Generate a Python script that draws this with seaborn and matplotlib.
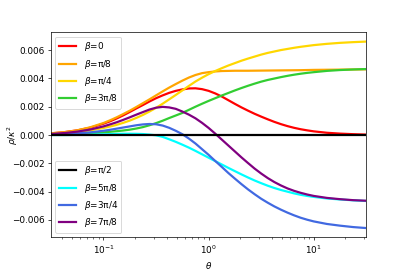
import matplotlib
matplotlib.use("Agg")
import matplotlib.pyplot as plt
import seaborn as sns
import pandas as pd

# theta positions where the curves were read
theta = [0.0316, 0.0422, 0.0562, 0.0750,
         0.1, 0.1155, 0.1334, 0.1540, 0.1778, 0.2054, 0.2371, 0.2738, 0.3162, 0.3652,
         0.4217, 0.4870, 0.5623, 0.6494, 0.7499, 0.8660, 1.0, 1.1548, 1.3335, 1.5399,
         1.7783, 2.0535, 2.3714, 2.7384, 3.1623, 3.6517, 4.2170, 4.8697, 5.6234, 6.4938,
         7.4989, 8.6596, 10.0,
         13.335, 17.783, 23.714, 31.623]

# values in units of 1e-3
SCALE = 1e-3
beta_0 = [0.12, 0.20, 0.33, 0.52,
          0.80, 0.97, 1.17, 1.39, 1.63, 1.88, 2.12, 2.37, 2.60, 2.80, 2.98, 3.12, 3.22,
          3.29, 3.30, 3.24, 3.12, 2.94, 2.72, 2.46, 2.20, 1.95, 1.72, 1.50, 1.30, 1.11,
          0.93, 0.77, 0.63, 0.51, 0.41, 0.33, 0.26,
          0.16, 0.10, 0.06, 0.03]
beta_pi8 = [0.12, 0.20, 0.33, 0.55,
            0.85, 1.04, 1.25, 1.48, 1.72, 1.98, 2.25, 2.52, 2.80, 3.08, 3.35, 3.60, 3.84,
            4.06, 4.24, 4.37, 4.44, 4.49, 4.52, 4.53, 4.54, 4.54, 4.54, 4.545, 4.55, 4.555,
            4.56, 4.565, 4.57, 4.575, 4.58, 4.59, 4.60,
            4.61, 4.62, 4.63, 4.64]
beta_pi4 = [0.09, 0.14, 0.22, 0.33,
            0.50, 0.60, 0.72, 0.86, 1.02, 1.21, 1.42, 1.66, 1.92, 2.21, 2.52, 2.83, 3.15,
            3.47, 3.78, 4.05, 4.30, 4.52, 4.72, 4.91, 5.08, 5.25, 5.40, 5.54, 5.68, 5.80,
            5.90, 6.00, 6.08, 6.16, 6.23, 6.29, 6.35,
            6.44, 6.51, 6.56, 6.60]
beta_3pi8 = [0.04, 0.06, 0.09, 0.13,
             0.19, 0.23, 0.27, 0.32, 0.38, 0.46, 0.56, 0.69, 0.84, 1.01, 1.20, 1.38, 1.56,
             1.78, 2.00, 2.21, 2.41, 2.60, 2.79, 2.97, 3.15, 3.32, 3.48, 3.63, 3.77, 3.89,
             3.99, 4.09, 4.18, 4.26, 4.33, 4.39, 4.44,
             4.53, 4.59, 4.63, 4.66]
beta_pi2 = [0.0] * 41
beta_5pi8 = [0.00, 0.00, 0.01, 0.03,
             0.05, 0.065, 0.08, 0.09, 0.09, 0.085, 0.07, 0.03, -0.02, -0.13, -0.30, -0.48,
             -0.68, -0.89, -1.12, -1.36, -1.60, -1.84, -2.08, -2.32, -2.55, -2.78, -3.00,
             -3.21, -3.40, -3.58, -3.74, -3.88, -4.00, -4.12, -4.22, -4.30, -4.37,
             -4.48, -4.55, -4.61, -4.66]
beta_3pi4 = [0.03, 0.06, 0.11, 0.19,
             0.30, 0.37, 0.45, 0.53, 0.61, 0.69, 0.75, 0.78, 0.76, 0.67, 0.51, 0.30, 0.06,
             -0.25, -0.60, -1.00, -1.40, -1.83, -2.25, -2.68, -3.08, -3.47, -3.84, -4.18,
             -4.50, -4.78, -5.04, -5.27, -5.48, -5.67, -5.84, -5.98, -6.10,
             -6.28, -6.40, -6.50, -6.57]
beta_7pi8 = [0.08, 0.14, 0.24, 0.39,
             0.61, 0.75, 0.90, 1.07, 1.25, 1.44, 1.62, 1.80, 1.93, 1.99, 1.95, 1.85, 1.66,
             1.44, 1.18, 0.86, 0.50, 0.10, -0.32, -0.74, -1.16, -1.58, -1.98, -2.37, -2.72,
             -3.04, -3.32, -3.56, -3.77, -3.94, -4.08, -4.20, -4.30,
             -4.44, -4.53, -4.60, -4.64]

labels = [r'$\beta$=0', r'$\beta$=π/8', r'$\beta$=π/4', r'$\beta$=3π/8',
          r'$\beta$=π/2', r'$\beta$=5π/8', r'$\beta$=3π/4', r'$\beta$=7π/8']
series = [beta_0, beta_pi8, beta_pi4, beta_3pi8, beta_pi2, beta_5pi8, beta_3pi4, beta_7pi8]
colors = ['red', 'orange', 'gold', 'limegreen', 'black', 'cyan', 'royalblue', 'purple']

fig, ax = plt.subplots(figsize=(6.4, 271 / 63.6), dpi=63.6)
fig.subplots_adjust(left=0.125, right=0.9, top=0.881, bottom=0.124)

handles = []
for lab, vals, col in zip(labels, series, colors):
    df = pd.DataFrame({'theta': theta, 'rho': [v * SCALE for v in vals]})
    sns.lineplot(data=df, x='theta', y='rho', ax=ax, color=col, linewidth=2.5,
                 label=lab, legend=False, zorder=3 if col == 'black' else 2)
    handles.append(ax.lines[-1])

ax.set_xscale('log')
ax.set_xlim(theta[0], theta[-1])
ax.set_xlabel(r'$\theta$')
ax.set_ylabel(r'$\rho/\kappa^2$')
ax.yaxis.set_label_coords(-0.098, 0.5)

leg1 = ax.legend(handles[:4], labels[:4], loc='upper left')
ax.add_artist(leg1)
ax.legend(handles[4:], labels[4:], loc='lower left')

fig.savefig('out.png', dpi=63.6)
